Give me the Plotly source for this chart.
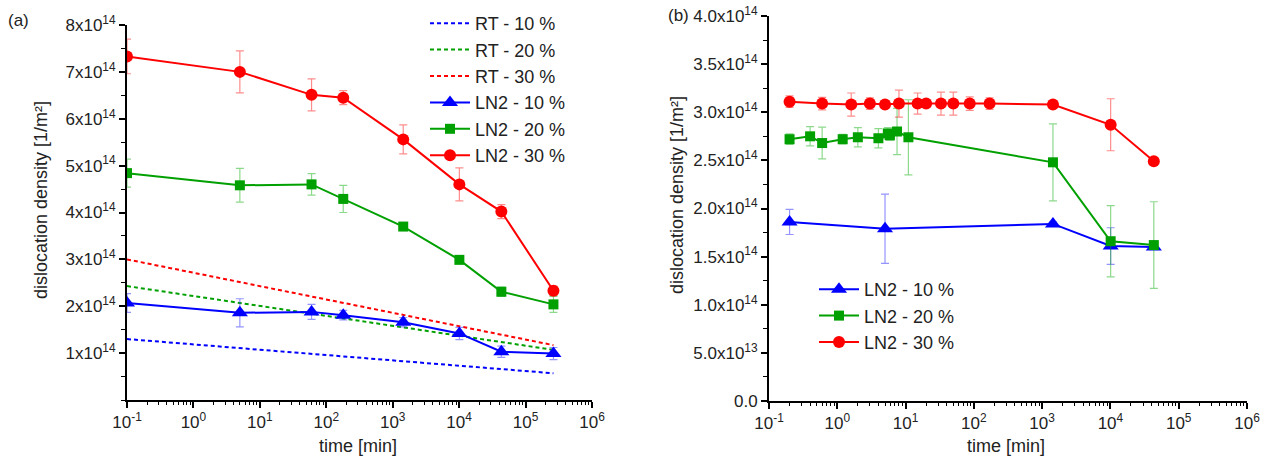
import plotly.graph_objects as go

# ---------------- data: panel (a) ----------------
time_a = [0.1, 5, 60, 180, 1440, 10080, 43200, 262800]
ln2_10_a = [2.07e14, 1.86e14, 1.88e14, 1.81e14, 1.66e14, 1.42e14, 1.03e14, 0.99e14]
ln2_10_a_err = [0.20e14, 0.30e14, 0.16e14, 0.10e14, 0.10e14, 0.13e14, 0.12e14, 0.13e14]
ln2_20_a = [4.84e14, 4.58e14, 4.60e14, 4.29e14, 3.70e14, 2.99e14, 2.31e14, 2.04e14]
ln2_20_a_err = [0.30e14, 0.36e14, 0.23e14, 0.29e14, 0.04e14, 0.08e14, 0.10e14, 0.17e14]
ln2_30_a = [7.33e14, 7.00e14, 6.51e14, 6.45e14, 5.56e14, 4.60e14, 4.02e14, 2.33e14]
ln2_30_a_err = [0.37e14, 0.45e14, 0.34e14, 0.15e14, 0.31e14, 0.35e14, 0.15e14, 0.10e14]

rt_time = [0.1, 262800]
rt_10 = [1.30e14, 0.57e14]
rt_20 = [2.43e14, 1.07e14]
rt_30 = [3.00e14, 1.17e14]

# ---------------- data: panel (b) ----------------
time_b_10 = [0.2, 5, 1440, 10080, 43200]
ln2_10_b = [1.86e14, 1.79e14, 1.84e14, 1.61e14, 1.60e14]
ln2_10_b_err = [0.13e14, 0.36e14, 0.02e14, 0.19e14, 0.02e14]

time_b_20 = [0.2, 0.4, 0.6, 1.2, 2, 4, 5.5, 5.9, 7.5, 11, 1440, 10080, 43200]
ln2_20_b = [2.72e14, 2.75e14, 2.68e14, 2.72e14, 2.74e14, 2.73e14, 2.78e14, 2.76e14,
            2.80e14, 2.74e14, 2.48e14, 1.66e14, 1.62e14]
ln2_20_b_err = [0.055e14, 0.10e14, 0.165e14, 0.05e14, 0.10e14, 0.10e14, 0.06e14, 0.05e14,
                0.24e14, 0.39e14, 0.40e14, 0.37e14, 0.45e14]

time_b_30 = [0.2, 0.6, 1.6, 3, 5, 8, 15, 20, 33, 50, 87, 170, 1440, 10080, 43200]
ln2_30_b = [3.11e14, 3.09e14, 3.08e14, 3.09e14, 3.08e14, 3.09e14, 3.09e14, 3.09e14,
            3.09e14, 3.09e14, 3.09e14, 3.09e14, 3.08e14, 2.87e14, 2.49e14]
ln2_30_b_err = [0.06e14, 0.065e14, 0.12e14, 0.06e14, 0.03e14, 0.14e14, 0.11e14, 0.03e14,
                0.12e14, 0.12e14, 0.07e14, 0.06e14, 0.03e14, 0.27e14, 0.03e14]

# tick labels
x_tickvals = [0.1, 1, 10, 100, 1e3, 1e4, 1e5, 1e6]
x_ticktext = ["10<sup>-1</sup>", "10<sup>0</sup>", "10<sup>1</sup>", "10<sup>2</sup>",
              "10<sup>3</sup>", "10<sup>4</sup>", "10<sup>5</sup>", "10<sup>6</sup>"]
ya_tickvals = [1e14, 2e14, 3e14, 4e14, 5e14, 6e14, 7e14, 8e14]
ya_ticktext = ["%dx10<sup>14</sup>" % i for i in range(1, 9)]
yb_tickvals = [0, 0.5e14, 1e14, 1.5e14, 2e14, 2.5e14, 3e14, 3.5e14, 4e14]
yb_ticktext = ["0.0", "5.0x10<sup>13</sup>", "1.0x10<sup>14</sup>", "1.5x10<sup>14</sup>",
               "2.0x10<sup>14</sup>", "2.5x10<sup>14</sup>", "3.0x10<sup>14</sup>",
               "3.5x10<sup>14</sup>", "4.0x10<sup>14</sup>"]

BLUE = "#0000FF"
GREEN = "#00A000"
RED = "#FF0000"
ERR_BLUE = "rgba(60,60,255,0.55)"
ERR_GREEN = "rgba(0,170,0,0.45)"
ERR_RED = "rgba(255,0,0,0.45)"

FONT = "Liberation Sans, Arial, sans-serif"

fig = go.Figure()

# RT dashed (panel a)
for name, yv, col in [("RT - 10 %", rt_10, BLUE), ("RT - 20 %", rt_20, GREEN), ("RT - 30 %", rt_30, RED)]:
    fig.add_trace(go.Scatter(x=rt_time, y=yv, mode="lines", name=name,
                             line=dict(color=col, width=2, dash="4px,3px"),
                             xaxis="x", yaxis="y", legend="legend"))

def add_ln2(x, y, err, name, col, errcol, sym, size, xa, ya, leg):
    fig.add_trace(go.Scatter(
        x=x, y=y, mode="lines+markers", name=name,
        line=dict(color=col, width=2),
        marker=dict(symbol=sym, size=size, color=col, line=dict(width=0)),
        error_y=dict(type="data", array=err, visible=True, color=errcol, thickness=1.2, width=4),
        xaxis=xa, yaxis=ya, legend=leg))

add_ln2(time_a, ln2_10_a, ln2_10_a_err, "LN2 - 10 %", BLUE, ERR_BLUE, "triangle-up", 14, "x", "y", "legend")
add_ln2(time_a, ln2_20_a, ln2_20_a_err, "LN2 - 20 %", GREEN, ERR_GREEN, "square", 10, "x", "y", "legend")
add_ln2(time_a, ln2_30_a, ln2_30_a_err, "LN2 - 30 %", RED, ERR_RED, "circle", 12, "x", "y", "legend")

add_ln2(time_b_10, ln2_10_b, ln2_10_b_err, "LN2 - 10 %", BLUE, ERR_BLUE, "triangle-up", 14, "x2", "y2", "legend2")
add_ln2(time_b_20, ln2_20_b, ln2_20_b_err, "LN2 - 20 %", GREEN, ERR_GREEN, "square", 10, "x2", "y2", "legend2")
add_ln2(time_b_30, ln2_30_b, ln2_30_b_err, "LN2 - 30 %", RED, ERR_RED, "circle", 12, "x2", "y2", "legend2")

W, H = 1269, 463
def px(v): return v / W
def py(v): return 1 - v / H

minor_log = [m * 10 ** k for k in range(-1, 6) for m in range(2, 10)]

def xaxis(domain, anchor):
    return dict(type="log", domain=domain, anchor=anchor, range=[-1, 6], automargin=False,
                tickvals=x_tickvals, ticktext=x_ticktext, ticks="outside", ticklen=6,
                tickwidth=1.5, tickcolor="black", showline=True, linecolor="black",
                linewidth=2, showgrid=False, zeroline=False,
                tickfont=dict(family=FONT, size=17, color="#222"),
                minor=dict(tickvals=minor_log, ticks="outside", ticklen=3, tickwidth=1,
                           tickcolor="black", showgrid=False))

def yaxis(domain, anchor, rng, tv, tt, mdt):
    return dict(domain=domain, anchor=anchor, range=rng, tickvals=tv, ticktext=tt,
                automargin=False,
                ticks="outside", ticklen=6, tickwidth=1.5, tickcolor="black",
                showline=True, linecolor="black", linewidth=2, showgrid=False,
                zeroline=False, tickfont=dict(family=FONT, size=17, color="#222"),
                minor=dict(dtick=mdt, ticks="outside", ticklen=4, tickwidth=1,
                           tickcolor="black", showgrid=False))

fig.update_layout(
    width=W, height=H,
    margin=dict(l=0, r=0, t=0, b=0, autoexpand=False),
    paper_bgcolor="white", plot_bgcolor="white",
    font=dict(family=FONT, color="#222"),
    xaxis=xaxis([px(127), px(592)], "y"),
    yaxis=yaxis([py(400), py(25)], "x", [0, 8e14], ya_tickvals, ya_ticktext, 0.5e14),
    xaxis2=xaxis([px(769), px(1247)], "y2"),
    yaxis2=yaxis([py(401), py(16)], "x2", [0, 4e14], yb_tickvals, yb_ticktext, 0.25e14),
    legend=dict(x=px(425), y=py(5), xanchor="left", yanchor="top",
                bgcolor="rgba(0,0,0,0)", font=dict(family=FONT, size=18, color="#222"),
                tracegroupgap=0, itemwidth=40),
    legend2=dict(x=px(814), y=py(271), xanchor="left", yanchor="top",
                 bgcolor="rgba(0,0,0,0)", font=dict(family=FONT, size=18, color="#222"),
                 tracegroupgap=0, itemwidth=40),
    showlegend=True,
)

ann = [
    dict(text="(a)", x=px(18), y=py(20), xref="paper", yref="paper", showarrow=False,
         xanchor="center", yanchor="middle", font=dict(family=FONT, size=17, color="#222")),
    dict(text="(b)", x=px(678), y=py(16), xref="paper", yref="paper", showarrow=False,
         xanchor="center", yanchor="middle", font=dict(family=FONT, size=17, color="#222")),
    dict(text="dislocation density [1/m²]", x=px(41), y=py(200), xref="paper", yref="paper",
         xanchor="center", yanchor="middle",
         showarrow=False, textangle=-90, font=dict(family=FONT, size=18, color="#222")),
    dict(text="dislocation density [1/m²]", x=px(677), y=py(195), xref="paper", yref="paper",
         xanchor="center", yanchor="middle",
         showarrow=False, textangle=-90, font=dict(family=FONT, size=18, color="#222")),
    dict(text="time [min]", x=px(358), y=py(446), xref="paper", yref="paper",
         xanchor="center", yanchor="middle",
         showarrow=False, font=dict(family=FONT, size=18, color="#222")),
    dict(text="time [min]", x=px(1006), y=py(446), xref="paper", yref="paper",
         xanchor="center", yanchor="middle",
         showarrow=False, font=dict(family=FONT, size=18, color="#222")),
]
fig.update_layout(annotations=ann)

fig.write_html("out.html", post_script="document.body.style.margin='0';",
               config={"displayModeBar": False})
